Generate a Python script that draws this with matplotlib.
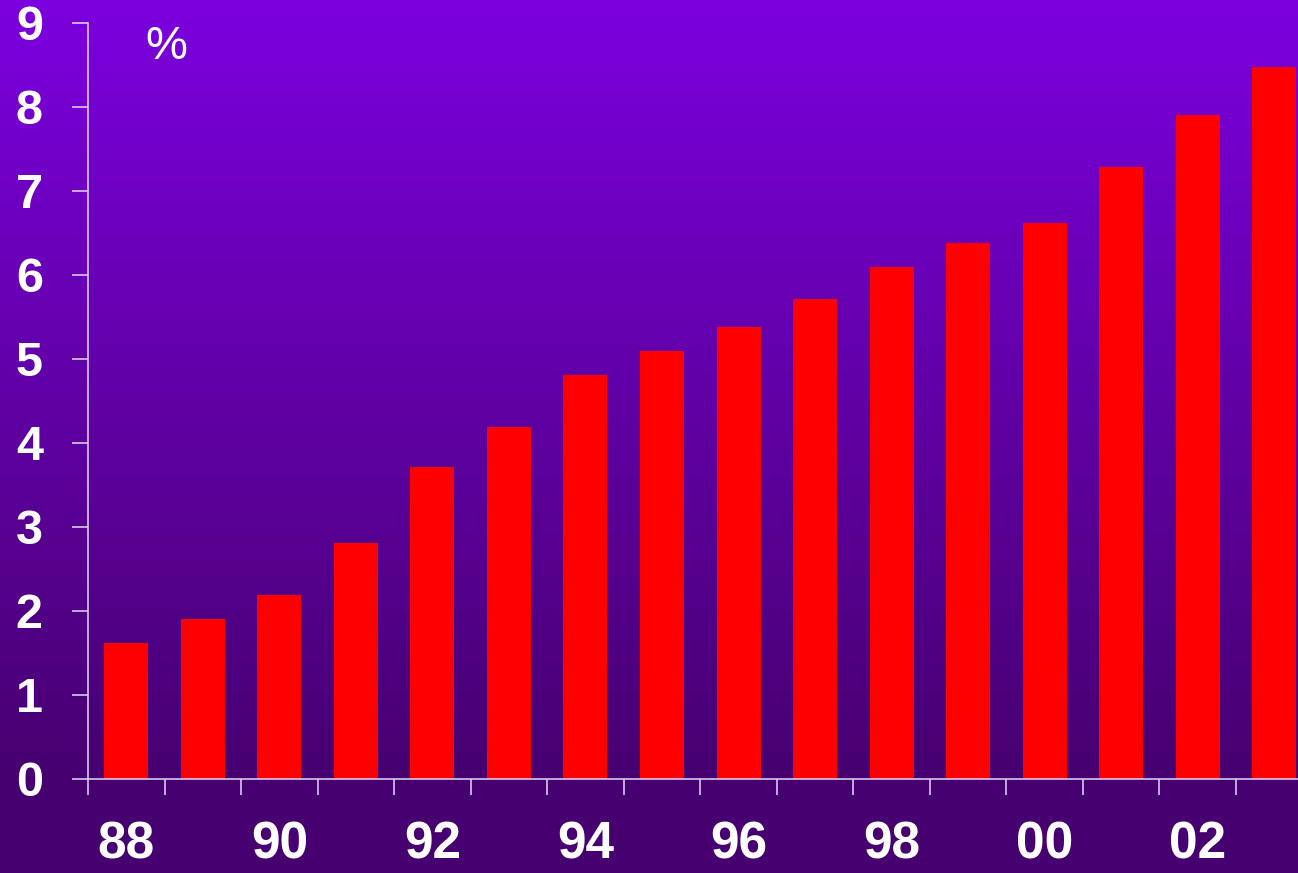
import numpy as np
import matplotlib
matplotlib.use('Agg')
import matplotlib.pyplot as plt
from matplotlib.colors import to_rgb

# data
years = ['88', '89', '90', '91', '92', '93', '94', '95',
         '96', '97', '98', '99', '00', '01', '02', '03']
values = [1.62, 1.90, 2.19, 2.81, 3.71, 4.19, 4.81, 5.10,
          5.38, 5.71, 6.10, 6.38, 6.62, 7.29, 7.90, 8.48]
yticks = list(range(0, 10))

plt.rcParams['font.family'] = ['Liberation Sans', 'DejaVu Sans']

fig = plt.figure(figsize=(12.98, 8.73), dpi=100)

# background: linear gradient from the top down to the x axis, flat below
bg = fig.add_axes([0, 0, 1, 1], zorder=0)
top_c = np.array(to_rgb('#7c00de'))
bot_c = np.array(to_rgb('#46006f'))
rows = np.arange(873)
t = np.clip(rows / 779, 0, 1)[:, None]
img = (1 - t) * top_c + t * bot_c
bg.imshow(img[:, None, :], aspect='auto', extent=[0, 1, 0, 1], origin='upper')
bg.axis('off')

left = 88 / 1298
ax = fig.add_axes([left, 94 / 873, 1224.5 / 1298, 756 / 873], zorder=1)
ax.patch.set_alpha(0)

x = np.arange(len(years))
ax.bar(x, values, width=0.575, color='#ff0000', zorder=2)

ax.set_xlim(-0.5, len(years) - 0.5)
ax.set_ylim(0, 9)

line_col = '#d8c8ee'
for s in ['top', 'right']:
    ax.spines[s].set_visible(False)
for s in ['left', 'bottom']:
    ax.spines[s].set_color(line_col)
    ax.spines[s].set_linewidth(1.2)

ax.set_yticks(yticks)
ax.set_yticklabels([str(t) for t in yticks])
ax.tick_params(axis='y', direction='out', length=11.5, width=1.2, color=line_col,
               pad=21, labelsize=35, labelcolor='white')
for lab in ax.get_yticklabels():
    lab.set_fontweight('bold')

ax.set_xticks(x[::2])
ax.set_xticklabels(years[::2])
ax.set_xticks(np.arange(-0.5, len(years), 1.0), minor=True)
ax.tick_params(axis='x', which='major', length=0, pad=30, labelsize=37,
               labelcolor='white')
ax.tick_params(axis='x', which='minor', direction='out', length=11.5, width=1.2,
               color=line_col)
for lab in ax.get_xticklabels():
    lab.set_fontweight('bold')

ax.text(145 / 1298, 1 - 47 / 873, '%', transform=fig.transFigure, color='white',
        fontsize=34, va='center', ha='left')

fig.savefig('out.png', dpi=100)
